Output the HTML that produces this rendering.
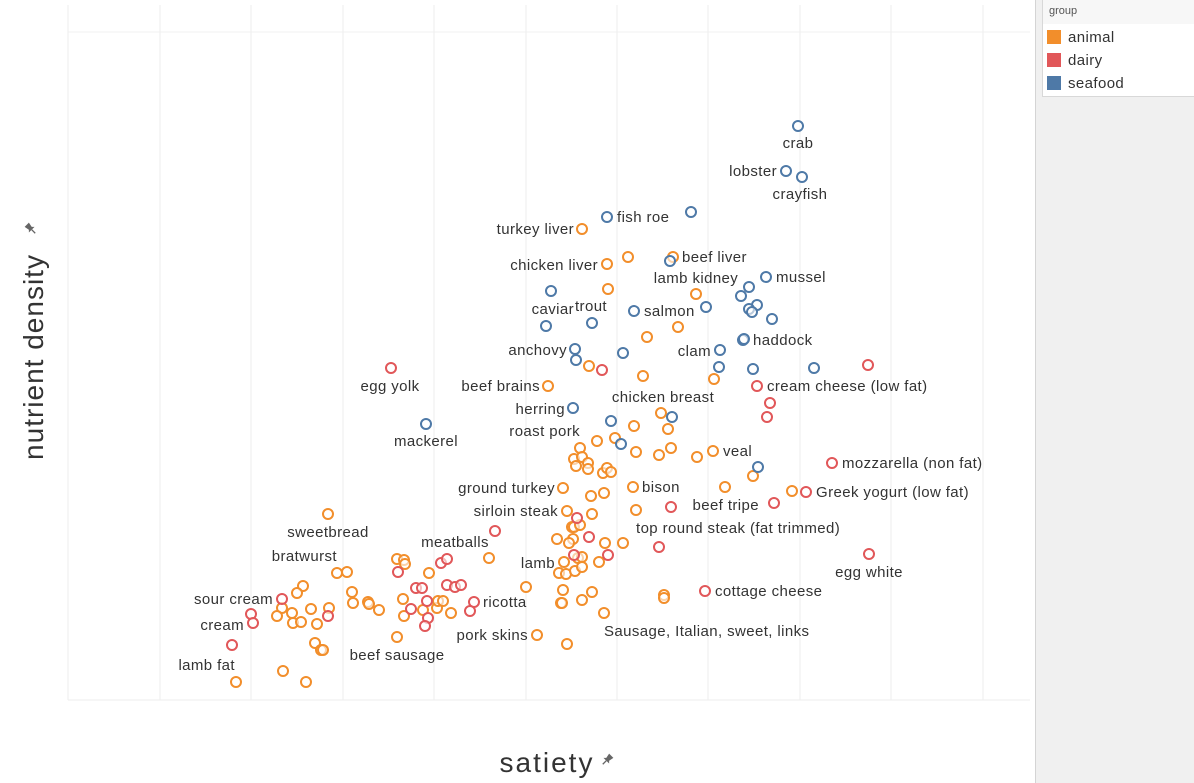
<!DOCTYPE html>
<html><head><meta charset="utf-8"><style>
body{margin:0;width:1194px;height:783px;overflow:hidden;background:#fff;font-family:"Liberation Sans",sans-serif}
#side{position:absolute;left:1035px;top:0;width:159px;height:783px;background:#f0f0f0;border-left:1px solid #d4d4d4}
#legend{position:absolute;left:1042px;top:0;width:152px;height:96px;background:#fff;border:1px solid #d8d8d8;border-top:none;border-right:none}
#legend .hd{height:24px;background:#f7f7f7;font-size:11px;color:#555;padding:5px 0 0 6px;box-sizing:border-box}
.le{position:absolute;left:4px;font-size:15px;color:#333;letter-spacing:0.4px}
.le span{display:inline-block;width:14px;height:14px;vertical-align:-2px;margin-right:7px}
</style></head><body>
<svg id="chart" width="1035" height="783" style="position:absolute;left:0;top:0"></svg>
<div id="side"></div>
<div id="legend">
<div class="hd">group</div>
<div class="le" style="top:29px"><span style="background:#f28e2b"></span>animal</div>
<div class="le" style="top:52px"><span style="background:#e15759"></span>dairy</div>
<div class="le" style="top:75px"><span style="background:#4e79a7"></span>seafood</div>
</div>
<script>
const groups=["animal","dairy","seafood"];
const colors=["#f28e2b","#e15759","#4e79a7"];
const animalPts=[[58.2,77.1],[62.8,74.3],[67.3,74.3],[60.7,73.6],[60.8,71.1],[69.6,70.6],[67.8,67.3],[64.7,66.3],[58.9,63.4],[64.3,62.4],[71.4,62.1],[54.8,61.4],[66.1,58.7],[63.4,57.4],[66.8,57.1],[59.7,55.9],[61.5,56.2],[58.0,55.2],[63.6,54.8],[65.9,54.5],[67.1,55.2],[69.7,54.3],[71.3,54.9],[57.4,54.1],[58.2,54.3],[57.6,53.4],[58.8,53.7],[58.8,53.1],[60.3,52.7],[60.7,53.2],[61.1,52.8],[56.3,51.2],[59.1,50.4],[60.4,50.7],[63.3,51.3],[72.5,51.3],[56.7,48.9],[59.2,48.6],[63.6,49.0],[57.2,47.3],[57.4,47.3],[58.0,47.5],[55.7,46.1],[57.3,46.1],[56.9,45.7],[60.5,45.7],[62.3,45.7],[56.4,43.8],[57.8,44.2],[58.2,44.3],[59.9,43.8],[55.9,42.7],[56.6,42.6],[57.5,42.9],[58.2,43.3],[52.6,41.3],[56.3,41.0],[59.2,40.8],[56.1,39.7],[56.2,39.7],[58.2,40.0],[66.4,40.5],[66.4,40.2],[60.4,38.7],[53.7,36.5],[56.7,35.6],[75.3,52.4],[79.2,50.9],[48.9,44.2],[32.8,48.6],[39.7,44.1],[40.4,44.0],[40.5,43.6],[33.7,42.7],[34.7,42.8],[42.9,42.7],[30.3,41.4],[29.7,40.7],[35.2,40.8],[35.3,39.7],[36.8,39.8],[36.9,39.6],[37.9,39.0],[40.3,40.1],[32.9,39.2],[31.1,39.1],[28.2,39.2],[27.7,38.4],[29.2,38.7],[29.3,37.7],[30.1,37.8],[31.7,37.6],[40.4,38.4],[42.3,39.0],[43.7,39.2],[43.8,39.9],[44.3,39.9],[45.1,38.7],[31.5,35.7],[32.1,35.0],[32.3,35.0],[39.7,36.3],[28.3,32.9],[23.6,31.8],[30.6,31.8]];
const dairyPts=[[39.1,63.2],[60.2,63.0],[86.8,63.5],[75.7,61.4],[77.0,59.7],[76.7,58.3],[83.2,53.7],[80.6,50.8],[77.4,49.7],[67.1,49.3],[86.9,44.6],[49.5,46.9],[70.5,40.9],[65.9,45.3],[57.7,48.2],[58.9,46.3],[57.4,44.5],[60.8,44.5],[28.2,40.1],[25.1,38.6],[25.3,37.7],[23.2,35.5],[32.8,38.4],[39.8,42.8],[44.1,43.7],[44.7,44.1],[41.6,41.2],[42.2,41.2],[44.7,41.5],[45.5,41.3],[46.1,41.5],[42.7,39.9],[41.1,39.1],[42.8,38.2],[42.5,37.4],[47.4,39.8],[47.0,38.9]];
const seafoodPts=[[79.8,87.4],[78.6,82.9],[80.2,82.3],[60.7,78.3],[69.1,78.8],[67.0,73.9],[76.6,72.3],[74.9,71.3],[74.1,70.4],[75.7,69.5],[74.9,69.1],[75.2,68.8],[77.2,68.1],[55.1,70.9],[59.2,67.7],[54.6,67.4],[63.4,68.9],[70.6,69.3],[74.3,66.0],[74.4,66.1],[72.0,65.0],[57.5,65.1],[57.6,64.0],[62.3,64.7],[71.9,63.3],[75.3,63.1],[81.4,63.2],[57.3,59.2],[42.6,57.6],[61.1,57.9],[67.2,58.3],[62.1,55.6],[75.8,53.3]];
const labelNames=["crab","lobster","crayfish","fish roe","turkey liver","beef liver","chicken liver","lamb kidney","mussel","caviar","trout","salmon","haddock","anchovy","clam","egg yolk","beef brains","cream cheese (low fat)","chicken breast","herring","mackerel","roast pork","veal","mozzarella (non fat)","ground turkey","bison","Greek yogurt (low fat)","beef tripe","sirloin steak","sweetbread","top round steak (fat trimmed)","meatballs","bratwurst","lamb","egg white","cottage cheese","sour cream","ricotta","cream","Sausage, Italian, sweet, links","pork skins","beef sausage","lamb fat"];
const labelPos=[[798,148,"middle"],[777,176,"end"],[800,199,"middle"],[617,222,"start"],[574,234,"end"],[682,262,"start"],[598,270,"end"],[696,283,"middle"],[776,282,"start"],[574,314,"end"],[591,311,"middle"],[644,316,"start"],[753,345,"start"],[567,355,"end"],[711,356,"end"],[390,391,"middle"],[540,391,"end"],[767,391,"start"],[663,402,"middle"],[565,414,"end"],[426,446,"middle"],[580,436,"end"],[723,456,"start"],[842,468,"start"],[555,493,"end"],[642,492,"start"],[816,497,"start"],[759,510,"end"],[558,516,"end"],[328,537,"middle"],[636,533,"start"],[455,547,"middle"],[337,561,"end"],[555,568,"end"],[869,577,"middle"],[715,596,"start"],[273,604,"end"],[483,607,"start"],[244,630,"end"],[604,636,"start"],[528,640,"end"],[397,660,"middle"],[235,670,"end"]];
const xTicks=[6.8,16,25.1,34.3,43.4,52.6,61.7,70.8,80,89.1,98.3];
const svg=document.getElementById('chart');
const NS="http://www.w3.org/2000/svg";
const xs=v=>v*10, ys=v=>1000-v*10;
function mk(t,a,parent){const e=document.createElementNS(NS,t);for(const k in a)e.setAttribute(k,a[k]);(parent||svg).appendChild(e);return e;}
xTicks.forEach(t=>{const l=mk('line',{x1:xs(t),x2:xs(t),y1:5,y2:700,stroke:'#ededed','stroke-width':1});

});
const hl=mk('line',{x1:68,x2:1030,y1:32,y2:32,stroke:'#f0f0f0','stroke-width':1});


const bl=mk('line',{x1:68,x2:1030,y1:700,y2:700,stroke:'#ededed','stroke-width':1});


[animalPts,dairyPts,seafoodPts].forEach((pts,g)=>{pts.forEach(p=>{
const c=mk('circle',{cx:xs(p[0]),cy:ys(p[1]),r:5,fill:'#fff','fill-opacity':0.6,stroke:colors[g],'stroke-width':2});

});});
labelNames.forEach((n,i)=>{const p=labelPos[i];
const t=mk('text',{x:p[0],y:p[1],'text-anchor':p[2],'font-size':15,'letter-spacing':0.4,fill:'#333','font-family':'Liberation Sans, sans-serif'});
t.textContent=n;

});
const yt=mk('text',{x:0,y:0,transform:'translate(43,357) rotate(-90)','text-anchor':'middle','font-size':28,'letter-spacing':1,fill:'#333'});
yt.textContent='nutrient density';


function pin(x,y,rot,name){const g=mk('g',{transform:`translate(${x},${y}) rotate(${rot})`});


mk('path',{d:'M-3,-6 L3,-6 L2,-1 L4,1 L-4,1 L-2,-1 Z',fill:'#666'},g);
mk('line',{x1:0,y1:1,x2:0,y2:6,stroke:'#666','stroke-width':1.3},g);}
pin(31,229,-45,'y-axis-pin-icon');
const xt=mk('text',{x:547,y:772,'text-anchor':'middle','font-size':28,'letter-spacing':2,fill:'#333'});
xt.textContent='satiety';


pin(607,760,45,'x-axis-pin-icon');
</script>
</body></html>
